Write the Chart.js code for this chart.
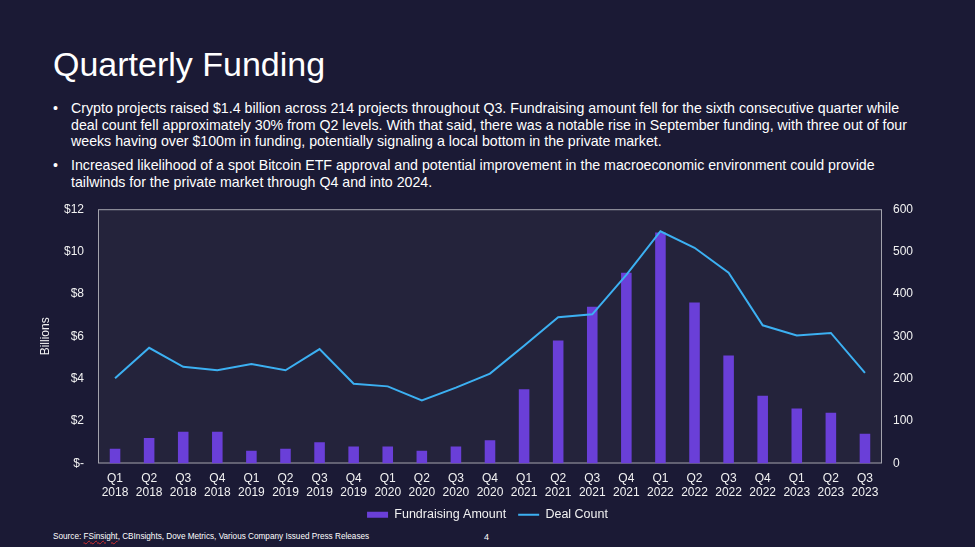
<!DOCTYPE html>
<html>
<head>
<meta charset="utf-8">
<script src="https://cdn.jsdelivr.net/npm/chart.js@4"></script>
<style>
  html, body { margin: 0; padding: 0; }
  body {
    width: 975px; height: 547px; overflow: hidden; position: relative;
    background: #1b1a35; color: #ffffff;
    font-family: "Liberation Sans", Arial, sans-serif;
  }
  .title { position: absolute; left: 53px; top: 47px; font-size: 34px; line-height: 34px; }
  .bullets { position: absolute; left: 0; top: 100px; font-size: 14.2px; line-height: 16.7px; }
  .bullet { position: relative; padding-left: 71px; margin-bottom: 7.3px; }
  .bullet::before { content: "•"; position: absolute; left: 53px; }
  .chart-wrap { position: absolute; left: 0; top: 188px; }
  .chart-wrap canvas { display: block; }
  .footer { position: absolute; left: 53px; top: 532px; font-size: 8.2px; }
  .footer u { text-decoration: underline wavy #d03030; }
  .page { position: absolute; left: 484px; top: 532px; font-size: 9px; }
</style>
</head>
<body>
<div class="title">Quarterly Funding</div>
<div class="bullets">
  <div class="bullet">Crypto projects raised $1.4 billion across 214 projects throughout Q3. Fundraising amount fell for the sixth consecutive quarter while<br>deal count fell approximately 30% from Q2 levels. With that said, there was a notable rise in September funding, with three out of four<br>weeks having over $100m in funding, potentially signaling a local bottom in the private market.</div>
  <div class="bullet">Increased likelihood of a spot Bitcoin ETF approval and potential improvement in the macroeconomic environment could provide<br>tailwinds for the private market through Q4 and into 2024.</div>
</div>
<div class="chart-wrap"><canvas id="fundingChart" width="975" height="343"></canvas></div>
<div class="footer">Source: <u>FSinsight</u>, CBInsights, Dove Metrics, Various Company Issued Press Releases</div>
<div class="page">4</div>

<script>
// Chart data
const quarters = ['Q1', 'Q2', 'Q3', 'Q4', 'Q1', 'Q2', 'Q3', 'Q4', 'Q1', 'Q2', 'Q3', 'Q4',
                  'Q1', 'Q2', 'Q3', 'Q4', 'Q1', 'Q2', 'Q3', 'Q4', 'Q1', 'Q2', 'Q3'];
const years = ['2018', '2018', '2018', '2018', '2019', '2019', '2019', '2019', '2020', '2020', '2020', '2020',
               '2021', '2021', '2021', '2021', '2022', '2022', '2022', '2022', '2023', '2023', '2023'];
const fundraising = [0.7, 1.2, 1.5, 1.5, 0.6, 0.7, 1.0, 0.8, 0.8, 0.6, 0.8, 1.1,
                     3.5, 5.8, 7.4, 9.0, 10.9, 7.6, 5.1, 3.2, 2.6, 2.4, 1.4];
const dealCount = [201, 273, 228, 220, 235, 220, 270, 188, 182, 149, 179, 212,
                   278, 345, 352, 445, 548, 509, 450, 326, 302, 308, 214];
const leftTicks = [0, 2, 4, 6, 8, 10, 12];
const rightTicks = [0, 100, 200, 300, 400, 500, 600];

const labels = quarters.map((q, i) => [q, years[i]]);

const barColor = '#6a3fd8';
const lineColor = '#3cb0f2';
const textColor = '#f2f2f2';
const family = '"Liberation Sans", Arial, sans-serif';
const font = { family: family, size: 12 };

// fills the plot area and draws its frame
const plotFrame = {
  id: 'plotFrame',
  beforeDraw(chart) {
    const { ctx, chartArea: a } = chart;
    ctx.save();
    ctx.fillStyle = '#24233b';
    ctx.fillRect(a.left, a.top, a.right - a.left, a.bottom - a.top);
    ctx.strokeStyle = '#a3a3ad';
    ctx.lineWidth = 1;
    ctx.strokeRect(a.left + 0.5, a.top + 0.5, a.right - a.left - 1, a.bottom - a.top - 1);
    ctx.restore();
  }
};

const ctx = document.getElementById('fundingChart').getContext('2d');
new Chart(ctx, {
  type: 'bar',
  data: {
    labels: labels,
    datasets: [
      {
        type: 'bar',
        label: 'Fundraising Amount',
        data: fundraising,
        backgroundColor: barColor,
        yAxisID: 'y',
        categoryPercentage: 1,
        barPercentage: 0.31,
        order: 2
      },
      {
        type: 'line',
        label: 'Deal Count',
        data: dealCount,
        borderColor: lineColor,
        backgroundColor: lineColor,
        borderWidth: 2,
        pointRadius: 0,
        tension: 0,
        yAxisID: 'y1',
        order: 1
      }
    ]
  },
  options: {
    responsive: false,
    animation: false,
    layout: { padding: { top: 7, left: 0, right: 0, bottom: 0 } },
    plugins: {
      tooltip: { enabled: false },
      legend: {
        position: 'bottom',
        labels: {
          color: textColor,
          font: { family: family, size: 12.5 },
          usePointStyle: true,
          pointStyleWidth: 21,
          boxHeight: 6,
          padding: 12,
          generateLabels(chart) {
            return chart.data.datasets.map((ds, i) => {
              const isLine = ds.type === 'line';
              const color = isLine ? ds.borderColor : ds.backgroundColor;
              return {
                text: ds.label,
                fillStyle: color,
                strokeStyle: color,
                lineWidth: isLine ? 2 : 0,
                pointStyle: isLine ? 'line' : 'rect',
                fontColor: textColor,
                datasetIndex: i
              };
            });
          }
        }
      }
    },
    scales: {
      x: {
        grid: { display: false, drawTicks: false },
        border: { display: false },
        ticks: { color: textColor, font: { ...font, lineHeight: 1.15 }, padding: 8, maxRotation: 0, autoSkip: false },
        afterFit(scale) { scale.height = 33; }
      },
      y: {
        position: 'left',
        min: 0,
        max: 12,
        grid: { display: false, drawTicks: false },
        border: { display: false },
        afterBuildTicks(scale) { scale.ticks = leftTicks.map(v => ({ value: v })); },
        ticks: {
          color: textColor,
          font: font,
          padding: 14,
          callback: v => (v === 0 ? '$-' : '$' + v)
        },
        title: { display: true, text: 'Billions', color: textColor, font: font, padding: { top: 38, bottom: 0 } },
        afterFit(scale) { scale.width = 98; }
      },
      y1: {
        position: 'right',
        min: 0,
        max: 600,
        grid: { display: false, drawTicks: false },
        border: { display: false },
        afterBuildTicks(scale) { scale.ticks = rightTicks.map(v => ({ value: v })); },
        ticks: { color: textColor, font: font, padding: 11 },
        afterFit(scale) { scale.width = 93; }
      }
    }
  },
  plugins: [plotFrame]
});
</script>
</body>
</html>
